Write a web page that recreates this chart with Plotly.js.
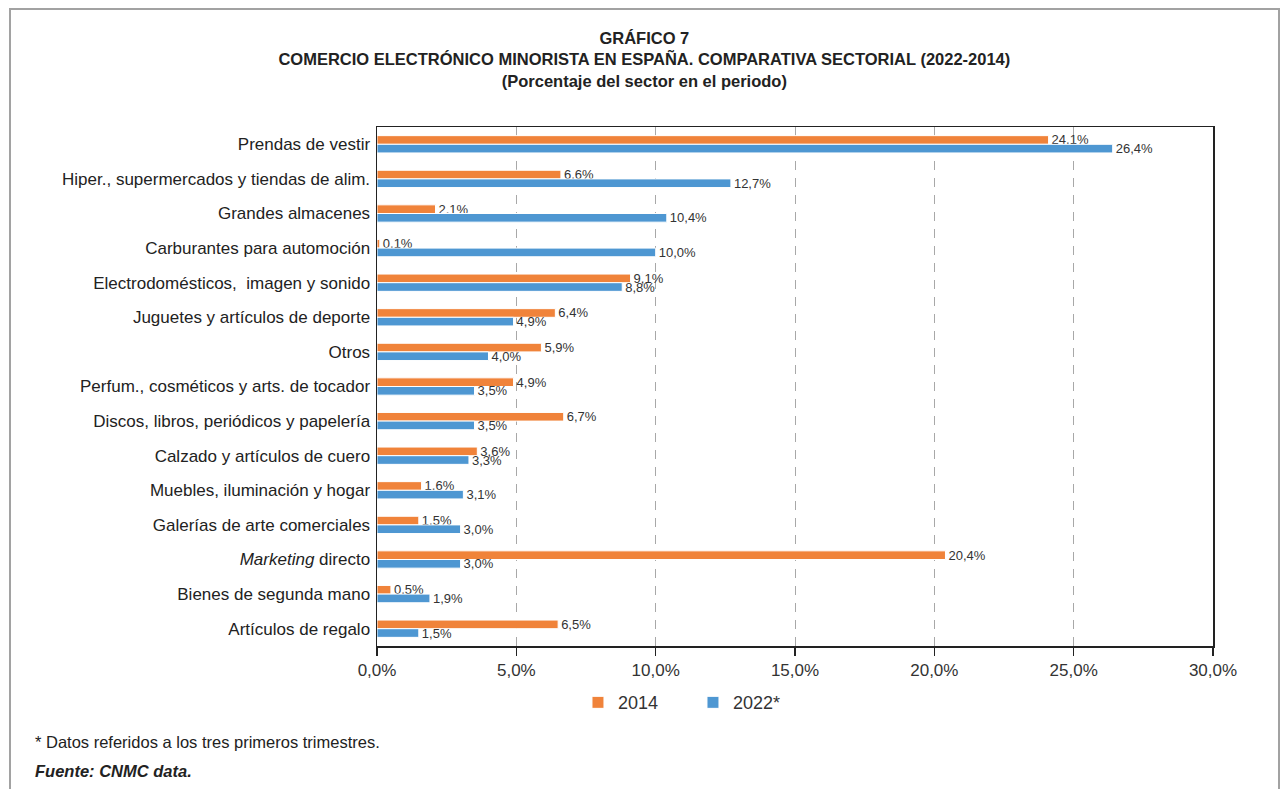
<!DOCTYPE html>
<html>
<head>
<meta charset="utf-8">
<script src="https://cdn.plot.ly/plotly-3.0.1.min.js"></script>
<style>
  html, body { margin: 0; padding: 0; background: #ffffff; }
  #frame { position: absolute; left: 9px; top: 8px; width: 1271px; height: 800px; border: 2px solid #a2a2a2; box-sizing: border-box; }
  #chart { position: absolute; left: 0; top: 0; width: 1281px; height: 789px; }
</style>
</head>
<body>
<div id="frame"></div>
<div id="chart"></div>
<script>
const categories = [
  "Prendas de vestir",
  "Hiper., supermercados y tiendas de alim.",
  "Grandes almacenes",
  "Carburantes para automoción",
  "Electrodomésticos,  imagen y sonido",
  "Juguetes y artículos de deporte",
  "Otros",
  "Perfum., cosméticos y arts. de tocador",
  "Discos, libros, periódicos y papelería",
  "Calzado y artículos de cuero",
  "Muebles, iluminación y hogar",
  "Galerías de arte comerciales",
  "<i>Marketing</i> directo",
  "Bienes de segunda mano",
  "Artículos de regalo"
];
const values2014 = [24.1, 6.6, 2.1, 0.1, 9.1, 6.4, 5.9, 4.9, 6.7, 3.6, 1.6, 1.5, 20.4, 0.5, 6.5];
const values2022 = [26.4, 12.7, 10.4, 10.0, 8.8, 4.9, 4.0, 3.5, 3.5, 3.3, 3.1, 3.0, 3.0, 1.9, 1.5];
const seriesNames = ["2014", "2022*"];
const xTicks = [0, 5, 10, 15, 20, 25, 30];
const xTickText = xTicks.map(v => v.toFixed(1).replace(".", ",") + "%");

const FONT = "Liberation Sans, Arial, Helvetica, sans-serif";
const ORANGE = "#F0833A";
const BLUE = "#4E97D2";

function barTrace(name, vals, color) {
  return {
    type: "bar", orientation: "h", name: name,
    y: categories, x: vals,
    marker: { color: color, line: { color: "#ffffff", width: 1 } },
    texttemplate: "%{x:.1f}%", textposition: "outside",
    constraintext: "none",
    textfont: { family: FONT, size: 13, color: "#333333" },
    cliponaxis: false, hoverinfo: "skip"
  };
}

const traces = [
  barTrace(seriesNames[0], values2014, ORANGE),
  barTrace(seriesNames[1], values2022, BLUE)
];

const layout = {
  width: 1281, height: 789,
  paper_bgcolor: "rgba(0,0,0,0)", plot_bgcolor: "#ffffff",
  margin: { l: 377, r: 68, t: 127, b: 143, pad: 0 },
  separators: ",.",
  font: { family: FONT, color: "#222222" },
  barmode: "group", bargap: 0.5, bargroupgap: 0,
  uniformtext: { mode: false },
  showlegend: true,
  legend: {
    orientation: "h", x: 0.2404, xanchor: "left", y: -0.0735, yanchor: "top",
    font: { family: FONT, size: 18, color: "#333333" },
    itemwidth: 30, traceorder: "normal", entrywidth: 70
  },
  title: {
    text: "GRÁFICO 7<br>COMERCIO ELECTRÓNICO MINORISTA EN ESPAÑA. COMPARATIVA SECTORIAL (2022-2014)<br>(Porcentaje del sector en el periodo)",
    font: { family: FONT, size: 16.5, color: "#222222", weight: 700 },
    x: 0.503, xanchor: "center", xref: "container",
    y: 1 - 44 / 789, yanchor: "top", yref: "container"
  },
  xaxis: {
    range: [0, 30], tickmode: "array", tickvals: xTicks, ticktext: xTickText,
    showgrid: true, gridcolor: "#a8a8a8", gridwidth: 1, griddash: "9px,8px",
    zeroline: false,
    showline: true, linecolor: "#222222", linewidth: 1.5, mirror: true,
    ticks: "outside", ticklen: 8, tickcolor: "#222222", tickwidth: 1.2,
    tickfont: { family: FONT, size: 17, color: "#333333" },
    fixedrange: true
  },
  yaxis: {
    type: "category", autorange: "reversed",
    showgrid: false, zeroline: false,
    showline: true, linecolor: "#222222", linewidth: 1.5, mirror: true,
    ticks: "", ticklabelstandoff: 2,
    tickfont: { family: FONT, size: 17, color: "#222222" },
    fixedrange: true
  },
  annotations: [
    {
      xref: "paper", yref: "paper", x: -0.4115, y: -0.1844, xanchor: "left", yanchor: "middle",
      text: "* Datos referidos a los tres primeros trimestres.", showarrow: false,
      font: { family: FONT, size: 16.5, color: "#222222" }
    },
    {
      xref: "paper", yref: "paper", x: -0.4115, y: -0.2403, xanchor: "left", yanchor: "middle",
      text: "<b><i>Fuente: CNMC data.</i></b>", showarrow: false,
      font: { family: FONT, size: 16.5, color: "#222222" }
    }
  ]
};

Plotly.newPlot("chart", traces, layout, { displayModeBar: false, staticPlot: true });
</script>
</body>
</html>
